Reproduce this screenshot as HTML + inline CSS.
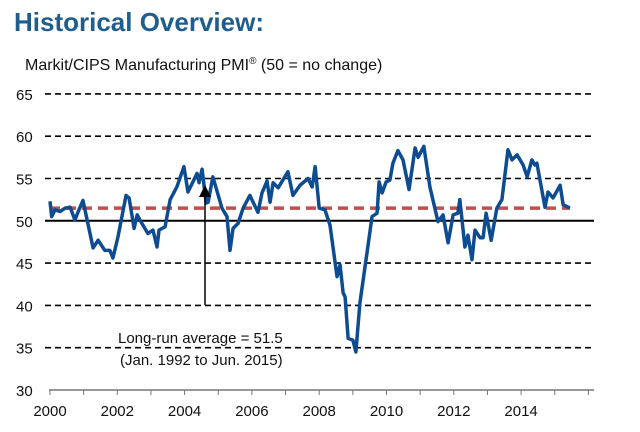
<!DOCTYPE html>
<html><head><meta charset="utf-8"><style>
body{margin:0;background:#fff;width:640px;height:432px;overflow:hidden}
svg{display:block}
text{font-family:"Liberation Sans",sans-serif}
</style></head><body>
<svg id="chart" width="640" height="432">
<text x="14" y="31" font-size="26" font-weight="bold" fill="#1f5e8c">Historical Overview:</text>
<text x="25" y="70" font-size="16" fill="#111">Markit/CIPS Manufacturing PMI<tspan font-size="10" dy="-6">®</tspan><tspan dy="6"> (50 = no change)</tspan></text>
<g id="grid"></g><g id="axes"></g><g id="series"></g><g id="annot"></g>
</svg>
<script>
const yTicks=[30,35,40,45,50,55,60,65];
const xTickLabels=[2000,2002,2004,2006,2008,2010,2012,2014];
const longRunAvg=51.5;
const years=[2000.0,2000.05,2000.15,2000.3,2000.45,2000.6,2000.74,2000.83,2000.98,2001.28,2001.43,2001.63,2001.78,2001.87,2002.02,2002.26,2002.35,2002.5,2002.59,2002.73,2002.91,2003.06,2003.18,2003.24,2003.42,2003.57,2003.77,2003.98,2004.1,2004.37,2004.43,2004.52,2004.64,2004.7,2004.84,2005.11,2005.26,2005.35,2005.44,2005.59,2005.74,2005.94,2006.18,2006.3,2006.45,2006.54,2006.63,2006.78,2007.07,2007.22,2007.43,2007.67,2007.79,2007.88,2008.0,2008.17,2008.32,2008.53,2008.62,2008.71,2008.77,2008.86,2009.0,2009.09,2009.21,2009.42,2009.57,2009.72,2009.78,2009.87,2009.99,2010.1,2010.19,2010.34,2010.49,2010.67,2010.85,2010.94,2011.11,2011.29,2011.53,2011.68,2011.83,2011.98,2012.12,2012.18,2012.33,2012.42,2012.54,2012.63,2012.78,2012.87,2012.96,2013.11,2013.28,2013.43,2013.61,2013.73,2013.88,2014.06,2014.18,2014.32,2014.41,2014.47,2014.71,2014.8,2014.95,2015.16,2015.25,2015.45];
const pmi=[52.3,50.5,51.3,51.1,51.5,51.6,50.1,51.0,52.4,46.8,47.7,46.5,46.5,45.6,48.1,53.0,52.7,49.1,50.7,49.7,48.5,48.9,46.9,48.9,49.3,52.5,54.0,56.4,53.4,55.6,54.5,56.1,52.1,52.2,55.2,51.5,50.5,46.5,49.1,49.7,51.5,53.0,51.0,53.3,54.7,52.2,54.5,53.9,55.8,53.0,54.2,55.0,54.0,56.4,51.5,51.3,49.5,43.4,44.8,41.5,41.0,36.1,35.9,34.5,40.3,46.2,50.5,50.9,54.6,53.3,54.6,54.8,56.8,58.3,57.2,53.7,58.6,57.5,58.8,54.0,49.9,50.7,47.4,50.7,50.9,52.5,46.9,48.3,45.4,48.9,48.0,48.0,50.9,47.7,51.5,52.5,58.4,57.2,57.8,56.6,55.2,57.2,56.6,56.8,51.6,53.4,52.7,54.2,51.9,51.5];
const NS="http://www.w3.org/2000/svg";
const X=t=>50+(t-2000)*33.65;
const Y=v=>390-(v-30)*8.46;
function mk(tag,attrs,parent){const e=document.createElementNS(NS,tag);for(const k in attrs)e.setAttribute(k,attrs[k]);document.getElementById(parent).appendChild(e);return e;}
yTicks.forEach(v=>{
  if(v>30){
    const l=mk('line',{x1:45,x2:594,y1:Y(v),y2:Y(v),stroke:'#000','stroke-width':v===50?2:1.6,'stroke-dasharray':v===50?'none':'6,4'},'grid');
    
    
  }
  const t=mk('text',{x:16,y:Y(v)+6,'font-size':15,fill:'#111'},'axes');
  t.textContent=v;
  
  
});
const ax=mk('line',{x1:49,x2:594,y1:Y(30),y2:Y(30),stroke:'#777','stroke-width':1.5},'axes');


for(let yr=2000;yr<=2016;yr++){
  const tk=mk('line',{x1:X(yr),x2:X(yr),y1:Y(30),y2:Y(30)+5,stroke:'#777','stroke-width':1},'axes');
  
  
}
xTickLabels.forEach(yr=>{
  const t=mk('text',{x:X(yr),y:416,'font-size':15,fill:'#111','text-anchor':'middle'},'axes');
  t.textContent=yr;
  
  
});
const avg=mk('line',{x1:X(2000),x2:X(2015.45),y1:Y(longRunAvg),y2:Y(longRunAvg),stroke:'#c0504d','stroke-width':3.5,'stroke-dasharray':'10,6'},'series');


const pl=mk('polyline',{points:years.map((t,i)=>X(t)+','+Y(pmi[i])).join(' '),fill:'none',stroke:'#0e4c92','stroke-width':3.5,'stroke-linejoin':'round'},'series');


const ar=mk('line',{x1:205,x2:205,y1:305,y2:195,stroke:'#000','stroke-width':1.5},'annot');


const ah=mk('polygon',{points:'205,185 199,197 211,197',fill:'#000'},'annot');


const a1=mk('text',{x:118,y:343,'font-size':15,fill:'#111'},'annot');
a1.textContent='Long-run average = 51.5';


const a2=mk('text',{x:120,y:365,'font-size':15,fill:'#111'},'annot');
a2.textContent='(Jan. 1992 to Jun. 2015)';


</script>
</body></html>
